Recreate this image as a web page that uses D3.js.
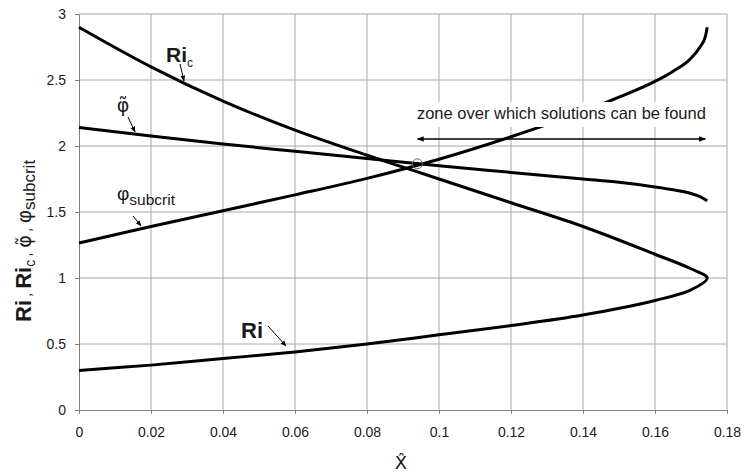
<!DOCTYPE html>
<html>
<head>
<meta charset="utf-8">
<script src="https://cdn.jsdelivr.net/npm/d3@7"></script>
<style>
  html, body { margin: 0; padding: 0; background: #fff; }
  svg { display: block; font-family: Arial, "Liberation Sans", sans-serif; }
</style>
</head>
<body>
<svg id="chart" width="745" height="474"></svg>
<script>
// Axis ticks
const xTicks = [0, 0.02, 0.04, 0.06, 0.08, 0.1, 0.12, 0.14, 0.16, 0.18];
const xTickLabels = ["0", "0.02", "0.04", "0.06", "0.08", "0.1", "0.12", "0.14", "0.16", "0.18"];
const yTicks = [0, 0.5, 1, 1.5, 2, 2.5, 3];
const yTickLabels = ["0", "0.5", "1", "1.5", "2", "2.5", "3"];

// Ri_c : upper branch of the Richardson-number curve (runs to the turning point)
const riCX = [0, 0.02, 0.04, 0.06, 0.08, 0.09, 0.1, 0.12, 0.14, 0.16, 0.17, 0.1745];
const riCY = [2.90, 2.60, 2.34, 2.12, 1.93, 1.84, 1.75, 1.57, 1.39, 1.18, 1.07, 1.00];

// Ri : lower branch, continuing back from the turning point
const riX = [0.1745, 0.17, 0.16, 0.14, 0.12, 0.1, 0.08, 0.06, 0.04, 0.02, 0];
const riY = [1.00, 0.91, 0.83, 0.72, 0.64, 0.57, 0.50, 0.44, 0.39, 0.34, 0.30];

// phi-tilde
const phiTX = [0, 0.02, 0.04, 0.06, 0.08, 0.1, 0.12, 0.14, 0.15, 0.16, 0.165, 0.17, 0.1725, 0.1745];
const phiTY = [2.14, 2.075, 2.015, 1.96, 1.905, 1.85, 1.80, 1.75, 1.725, 1.69, 1.668, 1.64, 1.617, 1.585];

// phi_subcrit
const phiSX = [0, 0.02, 0.04, 0.06, 0.08, 0.1, 0.12, 0.14, 0.15, 0.16, 0.165, 0.17, 0.1725, 0.174, 0.1745];
const phiSY = [1.265, 1.39, 1.51, 1.63, 1.755, 1.90, 2.07, 2.26, 2.37, 2.49, 2.565, 2.665, 2.75, 2.83, 2.90];

// Solution point and the zone over which solutions exist
const solution = [0.094, 1.865];
const zoneRange = [0.094, 0.174];
const zoneLevel = 2.053;
const zoneText = "zone over which solutions can be found";

const svg = d3.select("#chart");
const x = d3.scaleLinear().domain([0, 0.18]).range([79, 727]);
const y = d3.scaleLinear().domain([0, 3]).range([410, 14]);

const gridColor = "#a8a8a8";
const axisColor = "#808080";
const inkColor = "#1a1a1a";
const markFont = "'DejaVu Sans', sans-serif";

// grid
const grid = svg.append("g");
grid.selectAll("line.v").data(xTicks.slice(1)).join("line")
  .attr("x1", d => x(d)).attr("x2", d => x(d))
  .attr("y1", y(0)).attr("y2", y(3))
  .attr("stroke", gridColor).attr("stroke-width", 1);
grid.selectAll("line.h").data(yTicks.slice(1)).join("line")
  .attr("x1", x(0)).attr("x2", x(0.18))
  .attr("y1", d => y(d)).attr("y2", d => y(d))
  .attr("stroke", gridColor).attr("stroke-width", 1);

// axes
const xAxis = svg.append("g").attr("transform", `translate(0,${y(0)})`)
  .call(d3.axisBottom(x).tickValues(xTicks).tickFormat((d, i) => xTickLabels[i])
    .tickSize(4).tickSizeOuter(0).tickPadding(13));
const yAxis = svg.append("g").attr("transform", `translate(${x(0)},0)`)
  .call(d3.axisLeft(y).tickValues(yTicks).tickFormat((d, i) => yTickLabels[i])
    .tickSize(4).tickSizeOuter(0).tickPadding(9));
[xAxis, yAxis].forEach(g => {
  g.select(".domain").attr("stroke", axisColor);
  g.selectAll(".tick line").attr("stroke", axisColor);
  g.selectAll(".tick text").attr("fill", inkColor)
    .style("font-size", "14px").style("font-family", "Arial, 'Liberation Sans', sans-serif");
});

// curves
const zip = (a, b) => a.map((v, i) => [v, b[i]]);
const loopLine = d3.line().x(d => x(d[0])).y(d => y(d[1])).curve(d3.curveCatmullRom.alpha(0.5));
const fnLine = d3.line().x(d => x(d[0])).y(d => y(d[1])).curve(d3.curveMonotoneX);
const riCurve = zip(riCX, riCY).concat(zip(riX, riY).slice(1));
const curveG = svg.append("g").attr("fill", "none")
  .attr("stroke", "#000").attr("stroke-width", 3).attr("stroke-linejoin", "round");
curveG.append("path").attr("d", loopLine(riCurve));
curveG.append("path").attr("d", fnLine(zip(phiTX, phiTY)));
curveG.append("path").attr("d", fnLine(zip(phiSX, phiSY)));

// solution point
svg.append("circle").attr("cx", x(solution[0])).attr("cy", y(solution[1]))
  .attr("r", 5).attr("fill", "none").attr("stroke", "#666").attr("stroke-width", 1);

// arrowheads
const defs = svg.append("defs");
defs.append("marker").attr("id", "head").attr("viewBox", "0 0 10 10")
  .attr("refX", 9).attr("refY", 5).attr("markerWidth", 7).attr("markerHeight", 7)
  .attr("markerUnits", "userSpaceOnUse").attr("orient", "auto-start-reverse")
  .append("path").attr("d", "M0,1 L10,5 L0,9 Z").attr("fill", "#000");
defs.append("marker").attr("id", "smallhead").attr("viewBox", "0 0 10 10")
  .attr("refX", 9).attr("refY", 5).attr("markerWidth", 6).attr("markerHeight", 6)
  .attr("markerUnits", "userSpaceOnUse").attr("orient", "auto")
  .append("path").attr("d", "M0,1 L10,5 L0,9 Z").attr("fill", "#000");

// zone annotation: white label box, text and double arrow
const zoneG = svg.append("g");
const zoneBox = zoneG.append("rect").attr("fill", "#fff");
const zx = x((zoneRange[0] + zoneRange[1]) / 2);
const zoneLabel = zoneG.append("text").attr("x", zx).attr("y", 119)
  .attr("text-anchor", "middle").attr("fill", inkColor)
  .style("font-size", "16.5px").text(zoneText);
const bb = zoneLabel.node().getBBox();
zoneBox.attr("x", bb.x - 2).attr("y", 102).attr("width", bb.width + 4).attr("height", 25);
zoneG.append("line").attr("x1", x(zoneRange[0])).attr("x2", x(zoneRange[1]))
  .attr("y1", y(zoneLevel)).attr("y2", y(zoneLevel))
  .attr("stroke", "#000").attr("stroke-width", 1.5)
  .attr("marker-start", "url(#head)").attr("marker-end", "url(#head)");

// curve labels with pointer arrows
const labels = svg.append("g").attr("fill", inkColor);
const pointer = (x1, y1, x2, y2) => labels.append("line")
  .attr("x1", x1).attr("y1", y1).attr("x2", x2).attr("y2", y2)
  .attr("stroke", "#000").attr("stroke-width", 1).attr("marker-end", "url(#smallhead)");

// Ri_c
const lRic = labels.append("text").attr("x", 166).attr("y", 62);
lRic.append("tspan").style("font-size", "21px").style("font-weight", "bold").text("Ri");
lRic.append("tspan").style("font-size", "12px").attr("dy", 5).text("c");
pointer(180, 64, 184, 81);

// phi-tilde
labels.append("text").attr("x", 123).attr("y", 112).attr("text-anchor", "middle")
  .style("font-family", markFont).style("font-size", "19px").text("φ\u0303");
pointer(128, 117, 135, 132);

// phi_subcrit
const lPs = labels.append("text").attr("x", 117).attr("y", 200);
lPs.append("tspan").style("font-size", "19px").text("φ");
lPs.append("tspan").style("font-size", "15.5px").attr("dy", 5).text("subcrit");
pointer(133, 216, 141, 226);

// Ri
labels.append("text").attr("x", 241).attr("y", 338)
  .style("font-size", "22px").style("font-weight", "bold").text("Ri");
pointer(268, 326, 286, 346);

// x-axis title
labels.append("text").attr("x", 401).attr("y", 469).attr("text-anchor", "middle")
  .style("font-family", markFont).style("font-size", "18px").text("X\u0302");

// y-axis title
const yt = labels.append("text").attr("transform", "translate(31,322) rotate(-90)")
  .attr("text-anchor", "start");
yt.append("tspan").style("font-size", "22px").style("font-weight", "bold").text("Ri");
yt.append("tspan").style("font-size", "15px").attr("dx", 3).text(",");
yt.append("tspan").style("font-size", "22px").style("font-weight", "bold").attr("dx", 4).text("Ri");
yt.append("tspan").style("font-size", "14px").attr("dy", 4).text("c");
yt.append("tspan").style("font-size", "15px").attr("dy", -4).attr("dx", 3).text(",");
yt.append("tspan").style("font-family", markFont).style("font-size", "19px").attr("dx", 5).text("φ\u0303");
yt.append("tspan").style("font-size", "15px").attr("dx", 3).text(",");
yt.append("tspan").style("font-size", "20px").attr("dx", 5).text("φ");
yt.append("tspan").style("font-size", "17px").attr("dy", 4).text("subcrit");
</script>
</body>
</html>
